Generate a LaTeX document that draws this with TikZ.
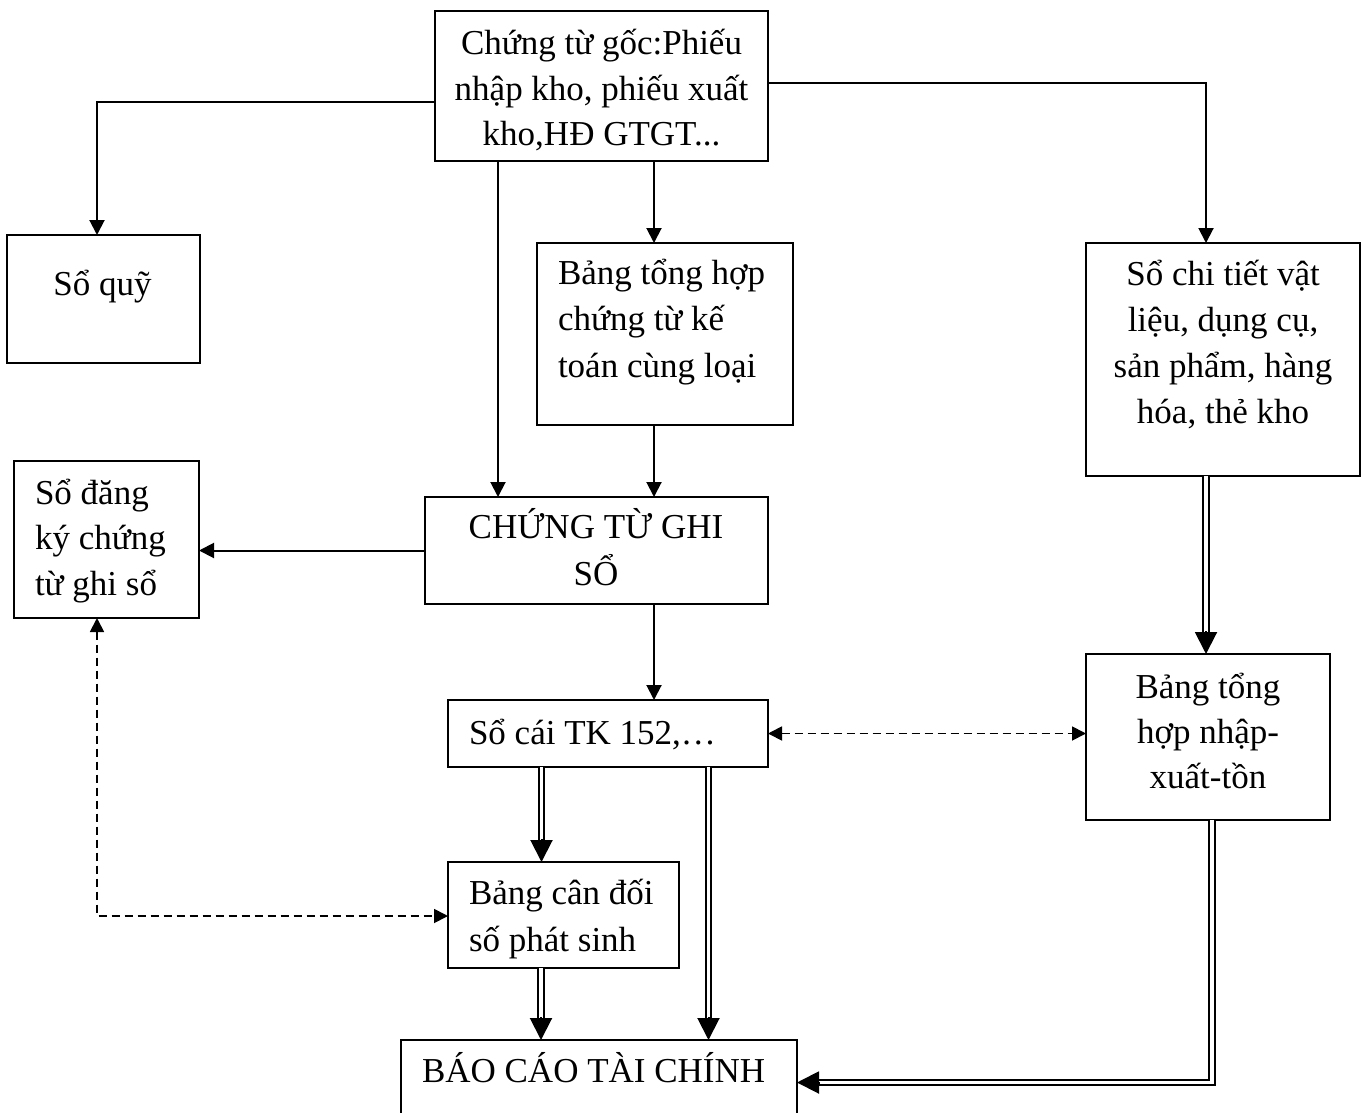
\documentclass[tikz,border=0pt]{standalone}
\usepackage{fontspec}
\setmainfont{Liberation Serif}
\usetikzlibrary{arrows.meta,calc}

\begin{document}
\begin{tikzpicture}[x=1pt,y=-1pt,
  box/.style={draw, line width=2pt, inner sep=0pt, outer sep=0pt},
  txt/.style={inner sep=0pt, outer sep=0pt},
  arr/.style={line width=2pt, -{Triangle[length=15pt,width=15pt]}},
  darr/.style={line width=1.8pt, dash pattern=on 8pt off 5pt,
    {Triangle[length=14pt,width=14pt]}-{Triangle[length=14pt,width=14pt]}},
  dbl/.style={double, double distance=3.5pt, line width=2pt, shorten >=20pt},
  bigtip/.style={line width=2pt, -{Triangle[length=22pt,width=22pt]}}
]
\fill[white] (0,0) rectangle (1368,1113);
\path[use as bounding box] (0,0) rectangle (1368,1113);
\clip (0,0) rectangle (1368,1113);

% boxes
\node[box, minimum width=333pt, minimum height=150pt] (src)  at (601.5,86)    {};
\node[box, minimum width=193pt, minimum height=128pt] (quy)  at (103.5,299)   {};
\node[box, minimum width=256pt, minimum height=182pt] (bth)  at (665,334)     {};
\node[box, minimum width=274pt, minimum height=233pt] (sct)  at (1223,359.5)  {};
\node[box, minimum width=185pt, minimum height=157pt] (sdk)  at (106.5,539.5) {};
\node[box, minimum width=343pt, minimum height=107pt] (ctgs) at (596.5,550.5) {};
\node[box, minimum width=320pt, minimum height=67pt]  (soc)  at (608,733.5)   {};
\node[box, minimum width=244pt, minimum height=166pt] (nxt)  at (1208,737)    {};
\node[box, minimum width=231pt, minimum height=106pt] (bcd)  at (563.5,915)   {};
\node[box, minimum width=396pt, minimum height=85pt]  (bctc) at (599,1082.5)  {};

% texts (anchored on the baseline of their last line)
\node[txt, align=center, anchor=base, font=\fontsize{35pt}{45.5pt}\selectfont] (t-src) at (601.5,146)
  {Chứng từ gốc:Phiếu\\nhập kho, phiếu xuất\\kho,HĐ GTGT...};
\node[txt, anchor=base, font=\fontsize{35pt}{42pt}\selectfont] (t-quy) at (102.5,295) {Sổ quỹ};
\node[txt, align=left, anchor=base west, font=\fontsize{35pt}{46.5pt}\selectfont] (t-bth) at (558,377)
  {Bảng tổng hợp\\chứng từ kế\\toán cùng loại};
\node[txt, align=center, anchor=base, font=\fontsize{35pt}{46pt}\selectfont] (t-sct) at (1223,423)
  {Sổ chi tiết vật\\liệu, dụng cụ,\\sản phẩm, hàng\\hóa, thẻ kho};
\node[txt, align=left, anchor=base west, font=\fontsize{35pt}{45.5pt}\selectfont] (t-sdk) at (35,595)
  {Sổ đăng\\ký chứng\\từ ghi sổ};
\node[txt, align=center, anchor=base, font=\fontsize{35pt}{47pt}\selectfont] (t-ctgs) at (596,585)
  {CHỨNG TỪ GHI\\SỔ};
\node[txt, anchor=base west, font=\fontsize{35pt}{42pt}\selectfont] (t-soc) at (469,744) {Sổ cái TK 152,…};
\node[txt, align=center, anchor=base, font=\fontsize{35pt}{45pt}\selectfont] (t-nxt) at (1208,788)
  {Bảng tổng\\hợp nhập-\\xuất-tồn};
\node[txt, align=left, anchor=base west, font=\fontsize{35pt}{47pt}\selectfont] (t-bcd) at (469,951)
  {Bảng cân đối\\số phát sinh};
\node[txt, anchor=base west, font=\fontsize{35pt}{42pt}\selectfont] (t-bctc) at (422,1082) {BÁO CÁO TÀI CHÍNH};

% single arrows
\draw[arr] ($(src.west)+(0,16)$) -| ($(quy.north)+(-6.5,0)$);
\draw[arr] ($(src.east)+(0,-3)$) -| ($(sct.north)+(-17,0)$);
\draw[arr] ($(src.south)+(-103.5,0)$) -- ($(ctgs.north)+(-98.5,0)$);
\draw[arr] ($(src.south)+(52.5,0)$) -- ($(bth.north)+(-11,0)$);
\draw[arr] ($(bth.south)+(-11,0)$) -- ($(ctgs.north)+(57.5,0)$);
\draw[arr] (ctgs.west) -- (ctgs.west -| sdk.east);
\draw[arr] ($(ctgs.south)+(57.5,0)$) -- ($(soc.north)+(46,0)$);

% dashed links
\draw[darr] (soc.east) -- (soc.east -| nxt.west);
\draw[darr] ($(sdk.south)+(-9.5,0)$) |- ($(bcd.west)+(0,1)$);

% double arrows
\draw[dbl] ($(sct.south)+(-17,0)$) -- ($(nxt.north)+(-2,0)$);
\draw[bigtip] ($(nxt.north)+(-2,-23)$) -- ($(nxt.north)+(-2,0)$);

\draw[dbl] ($(soc.south)+(-66.5,0)$) -- ($(bcd.north)+(-22,0)$);
\draw[bigtip] ($(bcd.north)+(-22,-23)$) -- ($(bcd.north)+(-22,0)$);

\draw[dbl] ($(soc.south)+(100.5,0)$) -- ($(bctc.north)+(109.5,0)$);
\draw[bigtip] ($(bctc.north)+(109.5,-23)$) -- ($(bctc.north)+(109.5,0)$);

\draw[dbl] ($(bcd.south)+(-22.5,0)$) -- ($(bctc.north)+(-58,0)$);
\draw[bigtip] ($(bctc.north)+(-58,-23)$) -- ($(bctc.north)+(-58,0)$);

\draw[dbl] ($(nxt.south)+(4,0)$) |- (bctc.east);
\draw[bigtip] ($(bctc.east)+(23,0)$) -- (bctc.east);
\end{tikzpicture}
\end{document}
